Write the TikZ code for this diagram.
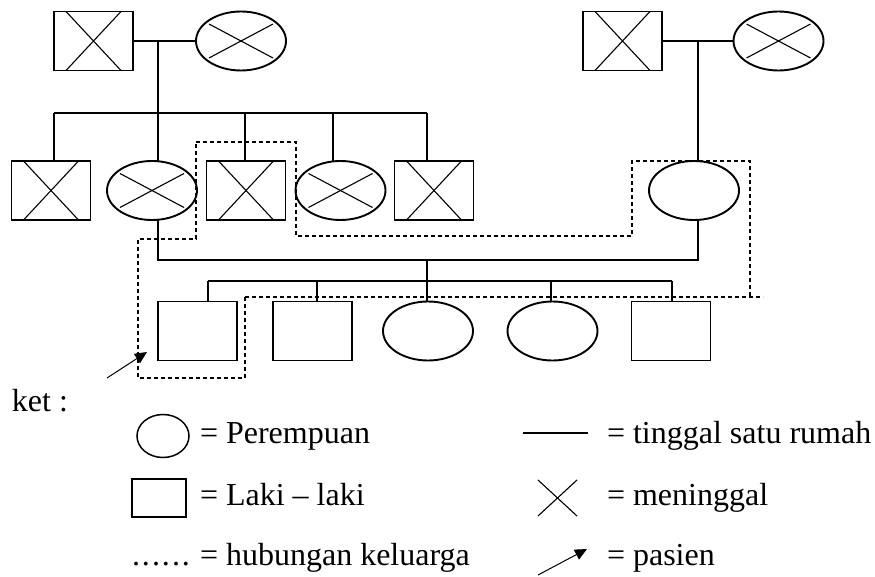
\documentclass[tikz,border=0pt]{standalone}
\usepackage{fontspec}
\setmainfont{Liberation Serif}
\usetikzlibrary{shapes.geometric,arrows.meta,calc}
\begin{document}
\begin{tikzpicture}[x=1pt,y=-1pt,
  every node/.style={inner sep=0pt, outer sep=0pt},
  xline/.style={line width=1.1pt},
  male/.style={draw, line width=1.9pt, minimum width=79pt, minimum height=59pt},
  female/.style={draw, ellipse, line width=1.9pt, minimum width=90pt, minimum height=59pt},
  deadm/.style={male, path picture={
      \draw[xline] ([xshift=12pt]path picture bounding box.north west) -- ([xshift=-12pt]path picture bounding box.south east);
      \draw[xline] ([xshift=-12pt]path picture bounding box.north east) -- ([xshift=12pt]path picture bounding box.south west);}},
  deadf/.style={female, path picture={
      \draw[xline] ([shift={(-32pt,-17pt)}]path picture bounding box.center) -- ([shift={(32pt,17pt)}]path picture bounding box.center);
      \draw[xline] ([shift={(-32pt,17pt)}]path picture bounding box.center) -- ([shift={(32pt,-17pt)}]path picture bounding box.center);}},
  link/.style={line width=1.5pt},
  fam/.style={line width=1.4pt, dash pattern=on 4pt off 3pt},
  lbl/.style={anchor=base west, font=\fontsize{32}{38}\selectfont},
  patient/.style={line width=1pt, -{Triangle[length=12pt,width=11pt]}}
]
\useasboundingbox (0,0) rectangle (875,577);

% generation 1
\node[deadm] (gf1) at (93.5,41) {};
\node[deadf] (gm1) at (241,41) {};
\node[deadm] (gf2) at (622.5,41) {};
\node[deadf] (gm2) at (778.5,41) {};

% generation 2
\node[deadm] (c1) at (51,190.5) {};
\node[deadf] (c2) at (152,190.5) {};
\node[deadm] (c3) at (246,190.5) {};
\node[deadf] (c4) at (340.5,190.5) {};
\node[deadm] (c5) at (434,190.5) {};
\node[female] (mo) at (694,190.5) {};

% generation 3
\node[male] (k1) at (197.5,331) {};
\node[male] (k2) at (312.5,331) {};
\node[female] (k3) at (428,331) {};
\node[female] (k4) at (552.5,331) {};
\node[male] (k5) at (671,331) {};

% left grandparents and their children
\draw[link] (gf1) -- (gm1);
\coordinate (m1) at (158,41);
\draw[link] (m1) -- (m1 |- c2.north);
\coordinate (s1) at (54,113);
\coordinate (s3) at (245,113);
\coordinate (s4) at (333,113);
\coordinate (s5) at (427,113);
\draw[link] (s1) -- (s5);
\draw[link] (s1) -- (s1 |- c1.north);
\draw[link] (s3) -- (s3 |- c3.north);
\draw[link] (s4) -- (s4 |- c4.north);
\draw[link] (s5) -- (s5 |- c5.north);

% right grandparents
\draw[link] (gf2) -- (gm2);
\coordinate (m2) at (698,41);
\draw[link] (m2) -- (m2 |- mo.north);

% parents
\coordinate (p1) at (158,260);
\coordinate (p2) at (698,260);
\draw[link] (p1 |- c2.south) -- (p1) -- (p2) -- (p2 |- mo.south);
\coordinate (pc) at (427,260);
\coordinate (t1) at (208,281);
\coordinate (t2) at (317,281);
\coordinate (t3) at (427,281);
\coordinate (t4) at (551,281);
\coordinate (t5) at (672,281);
\draw[link] (pc) -- (t3);
\draw[link] (t1) -- (t5);
\draw[link] (t1) -- (t1 |- k1.north);
\draw[link] (t2) -- (t2 |- k2.north);
\draw[link] (t3) -- (t3 |- k3.north);
\draw[link] (t4) -- (t4 |- k4.north);
\draw[link] (t5) -- (t5 |- k5.north);

% family relation (dashed)
\draw[fam] (196,142) -- (296,142) -- (296,236) -- (632,236) -- (632,161) -- (750,161) -- (750,297);
\draw[fam] (245,297) -- (763,297);
\draw[fam] (245,297) -- (245,378) -- (138,378) -- (138,239) -- (196,239) -- (196,142);

% patient arrow
\coordinate (pa0) at (107,378);
\coordinate (pa1) at (147,352);
\draw[patient] (pa0) -- (pa1);

% legend
\node[lbl] (ket) at (12,411) {ket :};
\node[draw, ellipse, line width=1.5pt, minimum width=52pt, minimum height=43pt] (lgf) at (163,436) {};
\node[lbl] (tf) at (200,443) {= Perempuan};
\node[draw, line width=1.5pt, minimum width=54pt, minimum height=38pt] (lgm) at (159,498) {};
\node[lbl] (tm) at (200,505) {= Laki – laki};
\node[lbl] (dots) at (132,565) {.\kern2pt.\kern2pt.\kern2pt.\kern2pt.\kern2pt.};
\node[lbl] (th) at (200,565) {= hubungan keluarga};
\coordinate (ll0) at (523,433);
\coordinate (ll1) at (588,433);
\draw[link] (ll0) -- (ll1);
\node[lbl] (tt) at (607,443) {= tinggal satu rumah};
\coordinate (lx0) at (538,480);
\coordinate (lx1) at (577,516);
\draw[xline] (lx0) -- (lx1);
\draw[xline] (lx0 -| lx1) -- (lx1 -| lx0);
\node[lbl] (tmg) at (607,505) {= meninggal};
\coordinate (la0) at (538,575);
\coordinate (la1) at (587,549);
\draw[patient] (la0) -- (la1);
\node[lbl] (tp) at (607,565) {= pasien};
\end{tikzpicture}
\end{document}
